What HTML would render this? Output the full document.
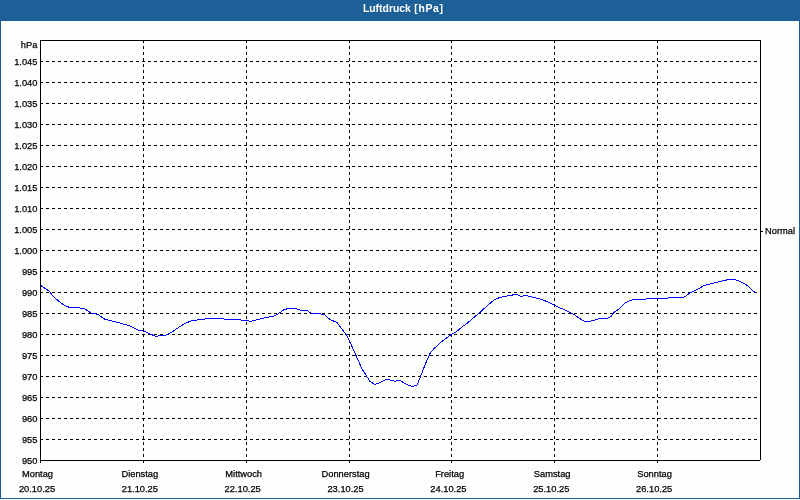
<!DOCTYPE html>
<html><head><meta charset="utf-8"><title>Luftdruck [hPa]</title>
<style>
html,body{margin:0;padding:0;background:#fff;}
body{width:800px;height:500px;overflow:hidden;position:relative;font-family:"Liberation Sans",sans-serif;}
#frame{position:absolute;left:0;top:0;width:798px;height:498px;border:1px solid #1d5f97;border-top:none;background:#fdfffd;}
#hdr{position:absolute;left:0;top:0;width:800px;height:21px;background:#1d5f97;color:#fff;font-weight:bold;font-size:10.8px;line-height:21px;text-align:center;}
#hdr span{position:absolute;left:0;width:806.5px;top:-2px;text-align:center;font-size:10.4px;word-spacing:0.6px;}
#hdr b{letter-spacing:0.65px;}
svg{position:absolute;left:0;top:0;}
svg text{font-family:"Liberation Sans",sans-serif;font-size:9.3px;fill:#000;stroke:#000;stroke-width:0.25px;}
</style></head><body>
<div id="frame"></div>
<div id="hdr"><span>Luftdruck <b>[hPa]</b></span></div>
<svg width="800" height="500" viewBox="0 0 800 500">

<g stroke="#000" stroke-width="1" shape-rendering="crispEdges" fill="none">
<line x1="40" y1="439.5" x2="760" y2="439.5" stroke-dasharray="3 3"/>
<line x1="40" y1="418.5" x2="760" y2="418.5" stroke-dasharray="3 3"/>
<line x1="40" y1="397.5" x2="760" y2="397.5" stroke-dasharray="3 3"/>
<line x1="40" y1="376.5" x2="760" y2="376.5" stroke-dasharray="3 3"/>
<line x1="40" y1="355.5" x2="760" y2="355.5" stroke-dasharray="3 3"/>
<line x1="40" y1="334.5" x2="760" y2="334.5" stroke-dasharray="3 3"/>
<line x1="40" y1="313.5" x2="760" y2="313.5" stroke-dasharray="3 3"/>
<line x1="40" y1="292.5" x2="760" y2="292.5" stroke-dasharray="3 3"/>
<line x1="40" y1="271.5" x2="760" y2="271.5" stroke-dasharray="3 3"/>
<line x1="40" y1="250.5" x2="760" y2="250.5" stroke-dasharray="3 3"/>
<line x1="40" y1="229.5" x2="760" y2="229.5" stroke-dasharray="3 3"/>
<line x1="40" y1="208.5" x2="760" y2="208.5" stroke-dasharray="3 3"/>
<line x1="40" y1="187.5" x2="760" y2="187.5" stroke-dasharray="3 3"/>
<line x1="40" y1="166.5" x2="760" y2="166.5" stroke-dasharray="3 3"/>
<line x1="40" y1="145.5" x2="760" y2="145.5" stroke-dasharray="3 3"/>
<line x1="40" y1="124.5" x2="760" y2="124.5" stroke-dasharray="3 3"/>
<line x1="40" y1="103.5" x2="760" y2="103.5" stroke-dasharray="3 3"/>
<line x1="40" y1="82.5" x2="760" y2="82.5" stroke-dasharray="3 3"/>
<line x1="40" y1="61.5" x2="760" y2="61.5" stroke-dasharray="3 3"/>
<line x1="143.5" y1="40" x2="143.5" y2="463" stroke-dasharray="3 3"/>
<line x1="246.5" y1="40" x2="246.5" y2="463" stroke-dasharray="3 3"/>
<line x1="349.5" y1="40" x2="349.5" y2="463" stroke-dasharray="3 3"/>
<line x1="451.5" y1="40" x2="451.5" y2="463" stroke-dasharray="3 3"/>
<line x1="554.5" y1="40" x2="554.5" y2="463" stroke-dasharray="3 3"/>
<line x1="657.5" y1="40" x2="657.5" y2="463" stroke-dasharray="3 3"/>
<line x1="40.5" y1="40" x2="40.5" y2="463"/>
<line x1="760.5" y1="40" x2="760.5" y2="460"/>
<line x1="40" y1="40.5" x2="761" y2="40.5"/>
<line x1="40" y1="460.5" x2="760" y2="460.5"/>
<line x1="760" y1="231.5" x2="763" y2="231.5"/>
</g>
<polyline points="41,285.6 49,291 53,296 58,300.6 64,305 69,307.2 76,307.6 84,308.4 91,313 98,314.4 105,319.4 110,320.4 120,323 130,326 138,330 144,331.2 150,334 156,336.4 161,335.4 166,335.2 173,331.4 180,326.4 186,323 192,320.6 200,319.6 210,318.4 222,318.4 225,319.4 240,319.4 242,320.4 247,320.4 250,321.4 258,319.4 266,317.4 273,316.6 278,314 284,309.6 289,308.4 295,308.4 300,310 307,310.6 311,313 317,313.6 324,314.4 330,319.4 337,322.6 342,329 347,336 350,342 354,351 358,360 362,369 366,375 370,381.6 375,384.4 380,382.6 386,379.6 390,380 395,381.2 400,380.4 405,383.6 409,385.6 413,386.4 417,385 420,378 423,370 427,360 430,353.6 434,348.6 440,343 448,337 452,334 456,332 462,327 468,322.6 474,317.4 480,312.4 488,305 494,300 500,297.4 510,295.4 516.4,294.4 521,296.4 525,295.4 534,297.4 542,299.4 550,303 558,307 566,310.4 574,314.4 581,319.4 585,321.4 590,321.4 600,318.4 608,318 611,316.6 614,312.4 619,309 625,303 630,300.4 635,299.4 645,299.4 648,298.4 667,298.4 670,297.4 683,297.4 686,296 690,293 698,289 704,285.6 712,283.4 720,281.6 729,279.4 735,279.4 740,281.6 746,284.4 751,289 754.4,292 756,292.4" fill="none" stroke="#0000ff" stroke-width="1" stroke-linejoin="round" shape-rendering="crispEdges"/>
<g text-anchor="end" transform="scale(1.0,1)">
<text x="37.40" y="48">hPa</text>
<text x="37.40" y="464">950</text>
<text x="37.40" y="443">955</text>
<text x="37.40" y="422">960</text>
<text x="37.40" y="401">965</text>
<text x="37.40" y="380">970</text>
<text x="37.40" y="359">975</text>
<text x="37.40" y="338">980</text>
<text x="37.40" y="317">985</text>
<text x="37.40" y="296">990</text>
<text x="37.40" y="275">995</text>
<text x="37.40" y="254">1.000</text>
<text x="37.40" y="233">1.005</text>
<text x="37.40" y="212">1.010</text>
<text x="37.40" y="191">1.015</text>
<text x="37.40" y="170">1.020</text>
<text x="37.40" y="149">1.025</text>
<text x="37.40" y="128">1.030</text>
<text x="37.40" y="107">1.035</text>
<text x="37.40" y="86">1.040</text>
<text x="37.40" y="65">1.045</text>
</g>
<text x="765.00" y="234" transform="scale(1.0,1)">Normal</text>
<g text-anchor="middle" transform="scale(1.0,1)">
<text x="37.50" y="477">Montag</text>
<text x="37.00" y="492">20.10.25</text>
<text x="139.86" y="477">Dienstag</text>
<text x="139.86" y="492">21.10.25</text>
<text x="243.71" y="477">Mittwoch</text>
<text x="242.71" y="492">22.10.25</text>
<text x="345.57" y="477">Donnerstag</text>
<text x="345.57" y="492">23.10.25</text>
<text x="449.63" y="477">Freitag</text>
<text x="448.43" y="492">24.10.25</text>
<text x="552.19" y="477">Samstag</text>
<text x="551.29" y="492">25.10.25</text>
<text x="654.54" y="477">Sonntag</text>
<text x="654.14" y="492">26.10.25</text>
</g>
</svg></body></html>
